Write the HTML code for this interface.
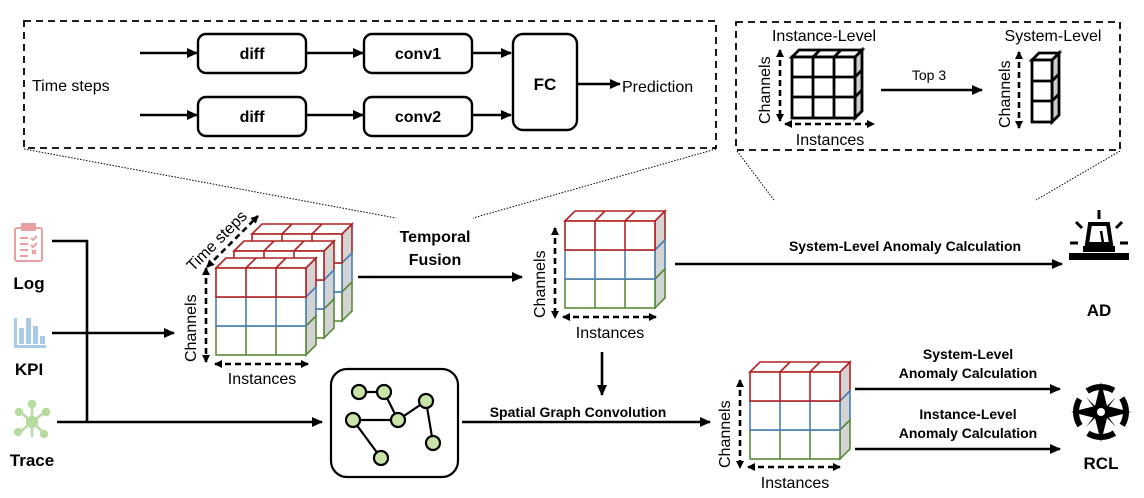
<!DOCTYPE html>
<html><head><meta charset="utf-8"><style>
body{margin:0;background:#fff}
svg{display:block}
text{font-family:"Liberation Sans",sans-serif;fill:#000}
.b{font-weight:bold}
</style></head><body>
<svg width="1144" height="498" viewBox="0 0 1144 498" xmlns="http://www.w3.org/2000/svg">
<defs>
<marker id="ar" markerWidth="11" markerHeight="10" refX="10" refY="5" orient="auto" markerUnits="userSpaceOnUse"><path d="M0,0 L11,5 L0,10 z" fill="#000"/></marker>
<marker id="as" markerWidth="8" markerHeight="8" refX="7" refY="4" orient="auto-start-reverse" markerUnits="userSpaceOnUse"><path d="M0,0 L8,4 L0,8 z" fill="#000"/></marker>
<g id="cc" stroke-width="1.6">
  <path d="M90,0 L100,-10 L100,19 L90,29 z" fill="#d3d3d3" stroke="#b22222"/>
  <path d="M90,29 L100,19 L100,48 L90,58 z" fill="#d3d3d3" stroke="#4a7fb5"/>
  <path d="M90,58 L100,48 L100,77 L90,87 z" fill="#d3d3d3" stroke="#5b8a3a"/>
  <path d="M0,0 L10,-10 L100,-10 L90,0 z M30,0 L40,-10 M60,0 L70,-10" fill="#fff" stroke="#b22222"/>
  <rect x="0" y="58" width="90" height="29" fill="#fff" stroke="#5b8a3a"/>
  <path d="M30,58 V87 M60,58 V87" stroke="#5b8a3a"/>
  <rect x="0" y="29" width="90" height="29" fill="#fff" stroke="#4a7fb5"/>
  <path d="M30,29 V58 M60,29 V58" stroke="#4a7fb5"/>
  <rect x="0" y="0" width="90" height="29" fill="#fff" stroke="#b22222"/>
  <path d="M30,0 V29 M60,0 V29" stroke="#b22222"/>
</g>
</defs>

<rect x="24" y="21" width="692" height="127" fill="none" stroke="#000" stroke-width="1.8" stroke-dasharray="7,5"/>
<text x="32" y="91" font-size="16">Time steps</text>
<g stroke="#000" stroke-width="2.4" fill="none">
<line x1="140" y1="53" x2="197" y2="53" marker-end="url(#ar)"/>
<line x1="140" y1="115" x2="197" y2="115" marker-end="url(#ar)"/>
<line x1="306" y1="53" x2="363" y2="53" marker-end="url(#ar)"/>
<line x1="306" y1="115" x2="363" y2="115" marker-end="url(#ar)"/>
<line x1="472" y1="53" x2="511" y2="53" marker-end="url(#ar)"/>
<line x1="472" y1="115" x2="511" y2="115" marker-end="url(#ar)"/>
<line x1="578" y1="84" x2="620" y2="84" marker-end="url(#ar)"/>
<rect x="198" y="34" width="108" height="39" rx="8"/>
<rect x="198" y="97" width="108" height="39" rx="8"/>
<rect x="364" y="34" width="108" height="39" rx="8"/>
<rect x="364" y="97" width="108" height="39" rx="8"/>
<rect x="513" y="34" width="64" height="96" rx="10"/>
</g>
<text x="252" y="59" font-size="16" class="b" text-anchor="middle">diff</text>
<text x="252" y="122" font-size="16" class="b" text-anchor="middle">diff</text>
<text x="418" y="59" font-size="16" class="b" text-anchor="middle">conv1</text>
<text x="418" y="122" font-size="16" class="b" text-anchor="middle">conv2</text>
<text x="545" y="90" font-size="17" class="b" text-anchor="middle">FC</text>
<text x="622" y="92" font-size="16">Prediction</text>

<rect x="736" y="22" width="384" height="128" fill="none" stroke="#000" stroke-width="1.8" stroke-dasharray="7,5"/>
<text x="824" y="41" font-size="16" text-anchor="middle">Instance-Level</text>
<text x="1053" y="41" font-size="16" text-anchor="middle">System-Level</text>
<g stroke="#000" stroke-width="2.8" fill="#fff">
<path d="M855,57 L862,50 L862,111 L855,118 z" fill="#ccc"/>
<path d="M792,57 L799,50 L862,50 L855,57 z M813,57 L820,50 M834,57 L841,50 M855,77 L862,70 M855,97 L862,90" />
<rect x="792" y="57" width="63" height="61"/>
<path d="M813,57 V118 M834,57 V118 M792,77 H855 M792,97 H855" fill="none"/>
<path d="M1052,60 L1059,53 L1059,115 L1052,122 z" fill="#ccc"/>
<path d="M1032,60 L1039,53 L1059,53 L1052,60 z M1052,81 L1059,74 M1052,101 L1059,94"/>
<rect x="1032" y="60" width="20" height="62"/>
<path d="M1032,81 H1052 M1032,101 H1052" fill="none"/>
</g>
<g stroke="#000" stroke-width="2.6" stroke-dasharray="6,4" fill="none">
<line x1="780" y1="50" x2="780" y2="121" marker-start="url(#as)" marker-end="url(#as)"/>
<line x1="785" y1="124" x2="874" y2="124" marker-start="url(#as)" marker-end="url(#as)"/>
<line x1="1019" y1="52" x2="1019" y2="128" marker-start="url(#as)" marker-end="url(#as)"/>
</g>
<text transform="translate(770,124) rotate(-90)" font-size="16">Channels</text>
<text x="1010" y="0" transform="translate(0,0)" font-size="16" opacity="0"></text>
<text transform="translate(1010,128) rotate(-90)" font-size="16">Channels</text>
<text x="830" y="145" font-size="16" text-anchor="middle">Instances</text>
<line x1="881" y1="90" x2="982" y2="90" stroke="#000" stroke-width="2.4" marker-end="url(#ar)"/>
<text x="929" y="80" font-size="14" text-anchor="middle">Top 3</text>

<g stroke="#000" stroke-width="1" stroke-dasharray="1.5,1.5">
<line x1="24" y1="149" x2="396" y2="218"/>
<line x1="716" y1="149" x2="473" y2="218"/>
<line x1="737" y1="151" x2="774" y2="200"/>
<line x1="1120" y1="151" x2="1036" y2="200"/>
</g>

<g stroke="#e8a0a0" stroke-width="2" fill="none">
<rect x="15" y="228" width="27" height="33" rx="2"/>
<rect x="22" y="224" width="13" height="6" fill="#e8a0a0"/>
<path d="M20,238 H28 M20,244 H28 M20,250 H28 M20,256 H28 M31,238 l2,2 4,-4 M31,245 l2,2 4,-4 M32,250 l4,4 M36,250 l-4,4"/>
</g>
<text x="29" y="289" font-size="17" class="b" text-anchor="middle">Log</text>
<g fill="#a9cbe8">
<rect x="14" y="318" width="3" height="30"/>
<rect x="19" y="328" width="5" height="16"/><rect x="26" y="318" width="5" height="26"/><rect x="33" y="326" width="5" height="18"/><rect x="40" y="336" width="5" height="8"/>
<rect x="14" y="345" width="32" height="3"/>
</g>
<text x="29" y="375" font-size="17" class="b" text-anchor="middle">KPI</text>
<g stroke="#b8dca0" stroke-width="2.5" fill="#b8dca0">
<line x1="32" y1="422" x2="20" y2="412"/><line x1="32" y1="422" x2="45" y2="412"/><line x1="32" y1="422" x2="32" y2="405"/>
<line x1="32" y1="422" x2="20" y2="432"/><line x1="32" y1="422" x2="44" y2="433"/><line x1="32" y1="422" x2="32" y2="437"/>
<circle cx="32" cy="422" r="5"/><circle cx="19" cy="412" r="3"/><circle cx="46" cy="412" r="3"/><circle cx="32" cy="404" r="3"/><circle cx="18" cy="432" r="3"/><circle cx="44" cy="434" r="3"/>
</g>
<text x="32" y="466" font-size="17" class="b" text-anchor="middle">Trace</text>

<g stroke="#000" stroke-width="2.6" fill="none">
<polyline points="52,241 87,241 87,422"/>
<line x1="52" y1="333" x2="174" y2="333" marker-end="url(#ar)"/>
<line x1="57" y1="422" x2="322" y2="422" marker-end="url(#ar)"/>
<line x1="358" y1="277" x2="522" y2="277" marker-end="url(#ar)"/>
<line x1="675" y1="264" x2="1062" y2="264" marker-end="url(#ar)"/>
<line x1="602" y1="352" x2="602" y2="395" marker-end="url(#ar)"/>
<line x1="462" y1="422" x2="710" y2="422" marker-end="url(#ar)"/>
<line x1="855" y1="389" x2="1060" y2="389" marker-end="url(#ar)"/>
<line x1="855" y1="449" x2="1060" y2="449" marker-end="url(#ar)"/>
</g>

<use href="#cc" x="252" y="234"/>
<use href="#cc" x="234" y="251"/>
<use href="#cc" x="216" y="268"/>
<g stroke="#000" stroke-width="2.6" stroke-dasharray="6,4" fill="none">
<line x1="206" y1="268" x2="206" y2="362" marker-start="url(#as)" marker-end="url(#as)"/>
<line x1="215" y1="364" x2="308" y2="364" marker-start="url(#as)" marker-end="url(#as)"/>
<line x1="207" y1="267" x2="258" y2="216" marker-start="url(#as)" marker-end="url(#as)"/>
</g>
<text transform="translate(196,362) rotate(-90)" font-size="16">Channels</text>
<text x="262" y="384" font-size="16" text-anchor="middle">Instances</text>
<text transform="translate(193,272) rotate(-45)" font-size="16">Time steps</text>

<text x="435" y="242" font-size="16" class="b" text-anchor="middle">Temporal</text>
<text x="435" y="265" font-size="16" class="b" text-anchor="middle">Fusion</text>

<use href="#cc" x="565" y="221"/>
<g stroke="#000" stroke-width="2.6" stroke-dasharray="6,4" fill="none">
<line x1="555" y1="228" x2="555" y2="318" marker-start="url(#as)" marker-end="url(#as)"/>
<line x1="563" y1="317" x2="656" y2="317" marker-start="url(#as)" marker-end="url(#as)"/>
</g>
<text transform="translate(545,318) rotate(-90)" font-size="16">Channels</text>
<text x="610" y="338" font-size="16" text-anchor="middle">Instances</text>

<text x="905" y="251" font-size="14" class="b" text-anchor="middle">System-Level Anomaly Calculation</text>

<g fill="#000" stroke="#000">
<path d="M1087,244 L1090,224 L1108,224 L1111,244 z" fill="none" stroke-width="4"/>
<rect x="1083" y="246" width="32" height="6" stroke="none"/>
<rect x="1069" y="253" width="60" height="7" stroke="none"/>
<line x1="1101" y1="231" x2="1103" y2="243" stroke-width="2.5"/>
<g stroke-width="3"><line x1="1099" y1="210" x2="1099" y2="219"/><line x1="1076" y1="222" x2="1082" y2="228"/><line x1="1122" y1="222" x2="1116" y2="228"/><line x1="1070" y1="243" x2="1078" y2="243"/><line x1="1120" y1="243" x2="1128" y2="243"/></g>
</g>
<text x="1099" y="316" font-size="17" class="b" text-anchor="middle">AD</text>

<rect x="331" y="369" width="127" height="108" rx="16" fill="none" stroke="#000" stroke-width="2.2"/>
<g stroke="#000" stroke-width="2.2">
<line x1="359" y1="392" x2="384" y2="392"/><line x1="384" y1="392" x2="398" y2="420"/>
<line x1="353" y1="420" x2="398" y2="420"/><line x1="398" y1="420" x2="426" y2="401"/>
<line x1="426" y1="401" x2="433" y2="443"/><line x1="353" y1="420" x2="381" y2="458"/>
<g fill="#c8e4a8">
<circle cx="359" cy="392" r="7"/><circle cx="384" cy="392" r="7"/><circle cx="426" cy="401" r="7"/>
<circle cx="353" cy="420" r="7"/><circle cx="398" cy="420" r="7"/><circle cx="433" cy="443" r="7"/><circle cx="381" cy="458" r="7"/>
</g></g>
<text x="578" y="417" font-size="14" class="b" text-anchor="middle">Spatial Graph Convolution</text>

<use href="#cc" x="750" y="372"/>
<g stroke="#000" stroke-width="2.6" stroke-dasharray="6,4" fill="none">
<line x1="740" y1="380" x2="740" y2="468" marker-start="url(#as)" marker-end="url(#as)"/>
<line x1="748" y1="467" x2="840" y2="467" marker-start="url(#as)" marker-end="url(#as)"/>
</g>
<text transform="translate(730,468) rotate(-90)" font-size="16">Channels</text>
<text x="795" y="488" font-size="16" text-anchor="middle">Instances</text>
<text x="968" y="359" font-size="14" class="b" text-anchor="middle">System-Level</text>
<text x="968" y="378" font-size="14" class="b" text-anchor="middle">Anomaly Calculation</text>
<text x="968" y="419" font-size="14" class="b" text-anchor="middle">Instance-Level</text>
<text x="968" y="438" font-size="14" class="b" text-anchor="middle">Anomaly Calculation</text>

<g>
<circle cx="1101" cy="412" r="25" fill="none" stroke="#000" stroke-width="6" stroke-dasharray="28,11" stroke-dashoffset="14"/>
<path d="M1101,382 L1107,406 L1131,412 L1107,418 L1101,442 L1095,418 L1071,412 L1095,406 z" fill="#000"/>
<path d="M1101,412 L1116,397 L1106,410 z M1101,412 L1086,397 L1096,410 z M1101,412 L1116,427 L1106,414 z M1101,412 L1086,427 L1096,414 z" fill="#000"/>
<circle cx="1101" cy="412" r="4" fill="#fff"/>
</g>
<text x="1101" y="469" font-size="17" class="b" text-anchor="middle">RCL</text>
</svg>
</body></html>
